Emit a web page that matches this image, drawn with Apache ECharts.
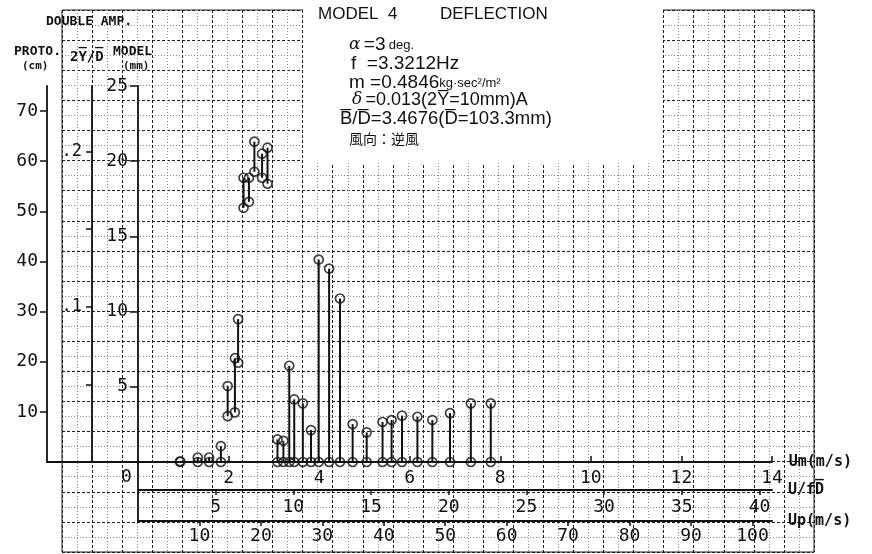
<!DOCTYPE html>
<html>
<head>
<meta charset="utf-8">
<script src="https://cdn.jsdelivr.net/npm/echarts@6/dist/echarts.min.js"></script>
<style>
  html, body { margin: 0; padding: 0; background: #fff; }
  #chart { width: 872px; height: 554px; }
</style>
</head>
<body>
<div id="chart"></div>
<script>
// 読み取り値 (model の振幅 mm, 風速 Um m/s)
const um = [0.93, 1.32, 1.57, 1.83, 1.98, 2.14, 2.21, 2.33, 2.45, 2.57, 2.74, 2.86,
            3.08, 3.21, 3.34, 3.45, 3.64, 3.82, 3.99, 4.22, 4.46, 4.74, 5.05, 5.40,
            5.60, 5.83, 6.17, 6.50, 6.89, 7.35, 7.79];
const lo = [0, 0, 0, 0, 3.05, 3.3, 6.6, 16.9, 17.3, 19.3, 18.9, 18.5,
            0, 0, 0, 0, 0, 0, 0, 0, 0, 0, 0, 0,
            0, 0, 0, 0, 0, 0, 0];
const hi = [0.05, 0.3, 0.3, 1.06, 5.05, 6.9, 9.5, 18.9, 18.9, 21.3, 20.5, 20.9,
            1.5, 1.41, 6.4, 4.16, 3.9, 2.12, 13.46, 12.86, 10.87, 2.52, 1.97, 2.66,
            2.79, 3.08, 3.01, 2.79, 3.25, 3.9, 3.9];

const umTicks = [2, 4, 6, 8, 10, 12, 14];
const ufdTicks = [5, 10, 15, 20, 25, 30, 35, 40];
const upTicks = [10, 20, 30, 40, 50, 60, 70, 80, 90, 100];
const modelTicks = [5, 10, 15, 20, 25];
const ydTicks = [0.05, 0.1, 0.15, 0.2];
const ydLabels = [0.1, 0.2];
const protoTicks = [10, 20, 30, 40, 50, 60, 70];

const fD = 3.3212 * 0.1033;   // f * D (m)
const Dmm = 103.3;
const protoPerModel = 3;      // cm / mm
const upPerUm = 7.37;
const umMax = 14, modelMax = 25;

const MONO = '"DejaVu Sans Mono", monospace';
const SANS = '"Liberation Sans", Arial, sans-serif';

const chart = echarts.init(document.getElementById('chart'));

const lineBlack = { show: true, onZero: false, lineStyle: { color: '#111', width: 1.8 } };
const tickStyle = { color: '#111', width: 1.5 };
const lblStyle = { color: '#111', fontFamily: MONO, fontSize: 18 };
const nameStyle = { fontFamily: MONO, fontWeight: 'bold', fontSize: 15, color: '#111', verticalAlign: 'middle' };
const paperMajor = { show: true, lineStyle: { color: '#1e1e1e', width: 1, type: [3, 2] } };
const paperMinor = { show: true, lineStyle: { color: '#8a8a8a', width: 1, type: [1, 2] } };
const small = { fontFamily: SANS, fontSize: 13, verticalAlign: 'bottom', padding: [0, 0, 2, 0] };

const stems = um.map((u, i) => [u, lo[i], hi[i]]);

const option = {
  animation: false,
  backgroundColor: '#fff',
  grid: [
    { left: 138, right: 100, top: 86, bottom: 92 },            // main
    { left: 62, width: 752, top: 10, height: 542,              // paper
      show: true, borderColor: '#222', borderWidth: 1, backgroundColor: 'transparent' },
    { left: 47, width: 91, top: 86, bottom: 92 },              // baseline extension
    { left: 138, right: 100, top: 462, bottom: 33 }            // lower frame
  ],
  xAxis: [
    { gridIndex: 0, type: 'value', min: 0, max: umMax, position: 'bottom', z: 3,
      axisLine: lineBlack,
      axisTick: { show: true, inside: true, length: 6, lineStyle: tickStyle, customValues: umTicks },
      axisLabel: { ...lblStyle, margin: 7, customValues: umTicks },
      splitLine: { show: false },
      name: 'Um(m/s)', nameLocation: 'end', nameGap: 16, nameTextStyle: nameStyle },
    { gridIndex: 0, type: 'value', min: 0, max: umMax / fD, position: 'bottom', offset: 28, z: 3,
      axisLine: lineBlack,
      axisTick: { show: true, length: 5, lineStyle: tickStyle, customValues: ufdTicks },
      axisLabel: { ...lblStyle, margin: 8, customValues: ufdTicks },
      splitLine: { show: false },
      name: 'U/fD\u0305', nameLocation: 'end', nameGap: 16, nameTextStyle: nameStyle },
    { gridIndex: 0, type: 'value', min: 0, max: umMax * upPerUm, position: 'bottom', offset: 59, z: 3,
      axisLine: lineBlack,
      axisTick: { show: true, length: 5, lineStyle: tickStyle, customValues: upTicks },
      axisLabel: { ...lblStyle, margin: 6, customValues: upTicks },
      splitLine: { show: false },
      name: 'Up(m/s)', nameLocation: 'end', nameGap: 16, nameTextStyle: nameStyle },
    { gridIndex: 1, type: 'value', min: 0, max: 25, interval: 1, z: 0,
      axisLine: { show: false }, axisTick: { show: false }, axisLabel: { show: false },
      splitLine: paperMajor, minorTick: { show: false, splitNumber: 2 }, minorSplitLine: paperMinor },
    { gridIndex: 2, type: 'value', min: 0, max: 1, position: 'bottom', z: 3,
      axisLine: lineBlack, axisTick: { show: false }, axisLabel: { show: false }, splitLine: { show: false } },
    { gridIndex: 3, type: 'value', min: 0, max: 1, show: false }
  ],
  yAxis: [
    { gridIndex: 0, type: 'value', min: 0, max: modelMax, position: 'left', offset: 0, z: 3,
      axisLine: lineBlack,
      axisTick: { show: true, length: 8, lineStyle: tickStyle, customValues: modelTicks },
      axisLabel: { ...lblStyle, margin: 10, customValues: modelTicks },
      splitLine: { show: false } },
    { gridIndex: 0, type: 'value', min: 0, max: modelMax / Dmm, position: 'left', offset: 46, z: 3,
      axisLine: lineBlack,
      axisTick: { show: true, length: 6, lineStyle: tickStyle, customValues: ydTicks },
      axisLabel: { ...lblStyle, fontSize: 17, margin: 10, customValues: ydLabels,
                   formatter: v => '.' + Math.round(v * 10) },
      splitLine: { show: false } },
    { gridIndex: 0, type: 'value', min: 0, max: modelMax * protoPerModel, position: 'left', offset: 91, z: 3,
      axisLine: lineBlack,
      axisTick: { show: true, length: 7, lineStyle: tickStyle, customValues: protoTicks },
      axisLabel: { ...lblStyle, margin: 9, customValues: protoTicks },
      splitLine: { show: false } },
    { gridIndex: 1, type: 'value', min: 0, max: 18, interval: 1, z: 0,
      axisLine: { show: false }, axisTick: { show: false }, axisLabel: { show: false },
      splitLine: paperMajor, minorTick: { show: false, splitNumber: 2 }, minorSplitLine: paperMinor },
    { gridIndex: 2, type: 'value', min: 0, max: 1, show: false },
    { gridIndex: 3, type: 'value', min: 0, max: 1, position: 'left', z: 3,
      axisLine: lineBlack, axisTick: { show: false }, axisLabel: { show: false }, splitLine: { show: false } }
  ],
  graphic: [
    { type: 'rect', z: 1, shape: { x: 303, y: 0, width: 360, height: 163 }, style: { fill: '#fff' } },
    { type: 'text', z: 5, left: 46, top: 15, style: { text: 'DOUBLE AMP.', fontFamily: MONO, fontWeight: 'bold', fontSize: 13, fill: '#111' } },
    { type: 'text', z: 5, left: 14, top: 45, style: { text: 'PROTO.', fontFamily: MONO, fontWeight: 'bold', fontSize: 13, fill: '#111' } },
    { type: 'text', z: 5, left: 22, top: 61, style: { text: '(cm)', fontFamily: MONO, fontWeight: 'bold', fontSize: 11, fill: '#111' } },
    { type: 'text', z: 5, left: 70, top: 50, style: { text: '2Y\u0305/D\u0305', fontFamily: MONO, fontWeight: 'bold', fontSize: 14, fill: '#111' } },
    { type: 'text', z: 5, left: 113, top: 45, style: { text: 'MODEL', fontFamily: MONO, fontWeight: 'bold', fontSize: 13, fill: '#111' } },
    { type: 'text', z: 5, left: 123, top: 61, style: { text: '(mm)', fontFamily: MONO, fontWeight: 'bold', fontSize: 11, fill: '#111' } },
    { type: 'text', z: 5, left: 121, top: 468, style: { text: '0', fontFamily: MONO, fontSize: 18, fill: '#111' } },
    { type: 'text', z: 5, left: 318, top: 6, style: { text: 'MODEL  4', fontFamily: SANS, fontSize: 17, fill: '#111' } },
    { type: 'text', z: 5, left: 440, top: 6, style: { text: 'DEFLECTION', fontFamily: SANS, fontSize: 17, fill: '#111' } },
    { type: 'text', z: 5, left: 349, top: 35, style: {
        text: '{g|α} {b|=3} {s|deg.}', fill: '#111',
        rich: { g: { fontFamily: '"DejaVu Serif", serif', fontStyle: 'italic', fontSize: 17 },
                b: { fontFamily: SANS, fontSize: 19 }, s: small } } },
    { type: 'text', z: 5, left: 351, top: 54, style: {
        text: '{b|f  =3.3212Hz}', fill: '#111', rich: { b: { fontFamily: SANS, fontSize: 19 } } } },
    { type: 'text', z: 5, left: 349, top: 73, style: {
        text: '{b|m =0.4846}{s|kg·sec²/m²}', fill: '#111',
        rich: { b: { fontFamily: SANS, fontSize: 19 }, s: small } } },
    { type: 'text', z: 5, left: 352, top: 91, style: {
        text: '{g|δ} {b|=0.013(2Y\u0305=10mm)A}', fill: '#111',
        rich: { g: { fontFamily: '"DejaVu Serif", serif', fontStyle: 'italic', fontSize: 17 },
                b: { fontFamily: SANS, fontSize: 18 } } } },
    { type: 'text', z: 5, left: 340, top: 109, style: {
        text: 'B\u0305/D\u0305=3.4676(D\u0305=103.3mm)', fontFamily: SANS, fontSize: 18.5, fill: '#111' } },
    { type: 'text', z: 5, left: 349, top: 132, style: {
        text: '風向：逆風', fontFamily: '"Noto Sans CJK JP", sans-serif', fontSize: 14, fill: '#111' } }
  ],
  series: [
    { type: 'custom', xAxisIndex: 0, yAxisIndex: 0, z: 4, data: stems,
      renderItem: (params, api) => {
        const p0 = api.coord([api.value(0), api.value(1)]);
        const p1 = api.coord([api.value(0), api.value(2)]);
        return { type: 'line', shape: { x1: p0[0], y1: p0[1], x2: p1[0], y2: p1[1] },
                 style: { stroke: '#111', lineWidth: 2 } };
      } },
    { type: 'scatter', xAxisIndex: 0, yAxisIndex: 0, z: 5, symbol: 'circle', symbolSize: 9,
      data: um.map((u, i) => [u, lo[i]]),
      itemStyle: { color: 'rgba(255,255,255,0)', borderColor: '#111', borderWidth: 1.7 } },
    { type: 'scatter', xAxisIndex: 0, yAxisIndex: 0, z: 5, symbol: 'circle', symbolSize: 9,
      data: um.map((u, i) => [u, hi[i]]),
      itemStyle: { color: 'rgba(255,255,255,0)', borderColor: '#111', borderWidth: 1.7 } }
  ]
};

chart.setOption(option);
</script>
</body>
</html>
